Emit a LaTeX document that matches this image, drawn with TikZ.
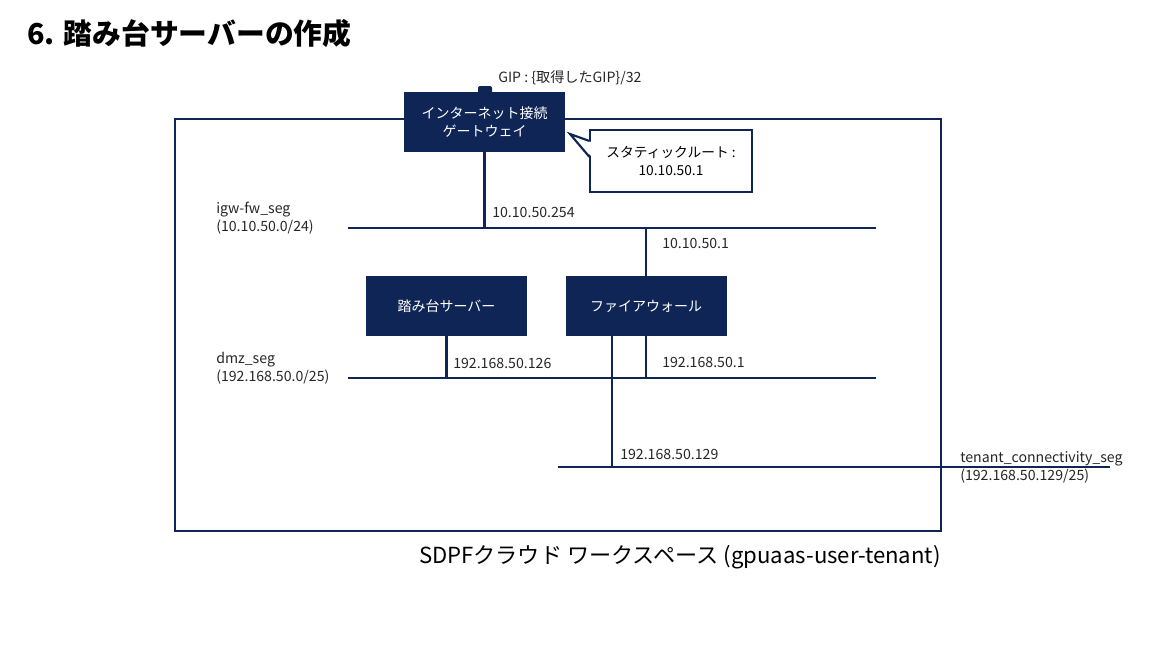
\documentclass[tikz,border=0pt]{standalone}
\usepackage{fontspec}
\setmainfont{Noto Sans CJK JP}
\definecolor{navy}{RGB}{14,37,85}
\begin{document}
\begin{tikzpicture}[x=0.75pt,y=-0.75pt,
  line/.style={draw=navy,line width=1.6pt},
  navybox/.style={fill=navy,text=white,minimum width=120.75pt,minimum height=45pt,inner sep=0pt,font=\fontsize{10.5}{13.5}\selectfont,align=center},
  lbl/.style={anchor=west,inner sep=0pt,font=\fontsize{10.6}{13.5}\selectfont,align=left,text=black!85}]
\useasboundingbox (0,0) rectangle (1155,647);
% title
\node[anchor=west,inner sep=0pt,font=\fontsize{21.6}{26}\bfseries\selectfont] (title) at (27,34) {6. 踏み台サーバーの作成};
% frame
\node[draw=navy,line width=1.6pt,minimum width=574.5pt,minimum height=309pt,inner sep=0pt] (frame) at (558,325) {};
\node[anchor=east,inner sep=0pt,font=\fontsize{16.6}{20}\selectfont] (ws) at (941,557) {SDPFクラウド ワークスペース (gpuaas-user-tenant)};
% coordinates of segments
\coordinate (igwL) at (348,228); \coordinate (igwR) at (876,228);
\coordinate (dmzL) at (348,378); \coordinate (dmzR) at (876,378);
\coordinate (tenL) at (558,467); \coordinate (tenR) at (1110,467);
% IGW
\fill[navy,rounded corners=1.5pt] (478,86) rectangle (492,95);
\node[navybox] (igw) at (484.5,122) {インターネット接続\\ゲートウェイ};
\node[lbl] (gip) at (498,78) {GIP : \{取得したGIP\}/32};
% callout
\node[draw=navy,line width=1.6pt,fill=white,minimum width=121.5pt,minimum height=46.5pt,inner sep=0pt,align=center,font=\fontsize{10.3}{14}\selectfont] (call) at (671,161) {スタティックルート :\\10.10.50.1};
\fill[white] (591,142) -- (571,134) -- (591,156) -- cycle;
\draw[draw=navy,line width=1.6pt,line join=miter] (589.5,141) -- (570,134) -- (589.5,157);
% boxes
\node[navybox] (srv) at (446.5,306) {踏み台サーバー};
\node[navybox] (fw) at (646,306) {ファイアウォール};
% segments
\draw[line] (igwL) -- (igwR);
\draw[line] (dmzL) -- (dmzR);
\draw[line] (tenL) -- (tenR);
% links
\draw[line] (igw.south) -- (igw.south |- igwL);
\draw[line] (fw.north) -- (fw.north |- igwR);
\draw[line] (srv.south) -- (srv.south |- dmzL);
\draw[line] (fw.south) -- (fw.south |- dmzR);
\draw[line] ([xshift=-25.5pt]fw.south) -- ([xshift=-25.5pt]fw.south |- tenL);
% labels
\node[lbl] (l1) at (216,218) {igw-fw\_seg\\(10.10.50.0/24)};
\node[lbl] (l2) at (216,368) {dmz\_seg\\(192.168.50.0/25)};
\node[lbl] (l3) at (960,467) {tenant\_connectivity\_seg\\(192.168.50.129/25)};
\node[lbl] (a1) at (492,212) {10.10.50.254};
\node[lbl] (a2) at (662,243) {10.10.50.1};
\node[lbl] (a3) at (453,363) {192.168.50.126};
\node[lbl] (a4) at (662,362) {192.168.50.1};
\node[lbl] (a5) at (620,454) {192.168.50.129};
\end{tikzpicture}
\end{document}
